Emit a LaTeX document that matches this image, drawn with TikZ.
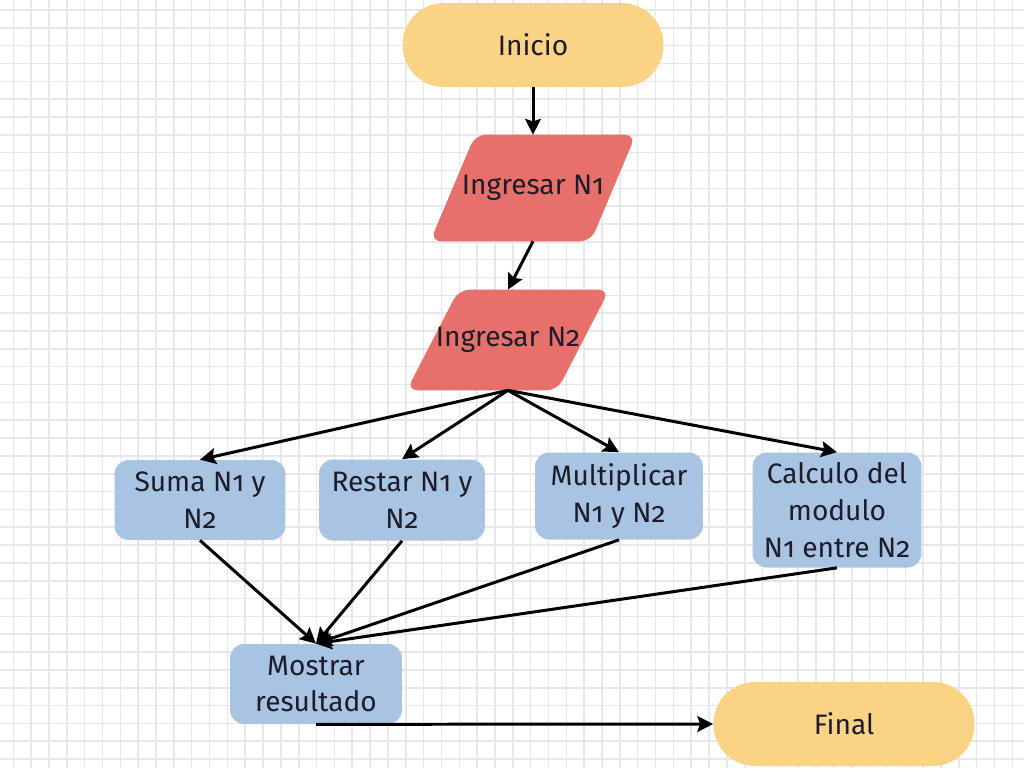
\documentclass[tikz,border=0pt]{standalone}
\usepackage{fontspec}
\setmainfont[Numbers=OldStyle]{Fira Sans}
\usetikzlibrary{arrows.meta,backgrounds}
\begin{document}
\begin{tikzpicture}[x=0.02cm,y=-0.02cm,
	every node/.style={font=\fontsize{16}{21}\selectfont, text=texto, align=center},
	inicio/.style={fill=amarillo, rounded corners=0.83cm, minimum width=5.22cm, minimum height=1.68cm},
	entrada/.style={inner sep=0pt},
	proceso/.style={fill=azul, rounded corners=0.28cm, inner sep=0pt},
	flecha/.style={line width=1.7pt, -{Stealth[length=9pt,width=9pt,inset=1.5pt]}}]
			\definecolor{amarillo}{RGB}{251,211,133}
			\definecolor{rojo}{RGB}{232,112,106}
			\definecolor{azul}{RGB}{169,196,226}
			\definecolor{texto}{RGB}{28,28,42}
			\definecolor{grille}{RGB}{231,231,235}
			\useasboundingbox (0,0) rectangle (1024,768);
			% cuadricula
			\begin{scope}[on background layer]
				\fill[white] (0,0) rectangle (1024,768);
				\foreach \i in {0,...,56}
					\draw[grille, line width=0.9pt] ({13.3+17.84*\i},0) -- ({13.3+17.84*\i},768);
				\foreach \j in {0,...,42}
					\draw[grille, line width=0.9pt] (0,{10+17.835*\j}) -- (1024,{10+17.835*\j});
			\end{scope}
			% nodos
			\node[inicio] (ini) at (533,45) {Inicio};
			\node[entrada, minimum width=3.2cm, minimum height=2.12cm] (n1) at (533,188) {Ingresar N1};
			\node[entrada, minimum width=3cm, minimum height=2cm] (n2) at (508,340) {Ingresar N2};
			\node[proceso, minimum width=3.42cm, minimum height=1.6cm] (suma) at (200,500) {Suma N1 y\\N2};
			\node[proceso, minimum width=3.32cm, minimum height=1.62cm] (resta) at (402,500) {Restar N1 y\\N2};
			\node[proceso, minimum width=3.36cm, minimum height=1.74cm] (mult) at (619,496) {Multiplicar\\N1 y N2};
			\node[proceso, minimum width=3.38cm, minimum height=2.3cm] (modulo) at (837,510) {Calculo del\\modulo\\N1 entre N2};
			\node[proceso, minimum width=3.44cm, minimum height=1.6cm] (mostrar) at (316,684) {Mostrar\\resultado};
			\node[inicio] (fin) at (844,724) {Final};
			% paralelogramos
			\begin{scope}[on background layer]
				\fill[rojo, rounded corners=0.22cm] ([xshift=-0.45cm]n1.south west) -- ([xshift=0.45cm]n1.north west)
					-- ([xshift=0.45cm]n1.north east) -- ([xshift=-0.45cm]n1.south east) -- cycle;
				\fill[rojo, rounded corners=0.22cm] ([xshift=-0.52cm]n2.south west) -- ([xshift=0.52cm]n2.north west)
					-- ([xshift=0.52cm]n2.north east) -- ([xshift=-0.52cm]n2.south east) -- cycle;
			\end{scope}
			% conectores
			\draw[flecha] (ini) -- (n1);
			\draw[flecha] (n1.south) -- (n2.north);
			\foreach \b in {suma,resta,mult,modulo}
				\draw[flecha] (n2.south) -- (\b.north);
			\foreach \b in {suma,resta,mult,modulo}
				\draw[flecha] (\b.south) -- (mostrar.north);
			\draw[flecha] (mostrar.south) -- (fin.west);
\end{tikzpicture}
\end{document}
